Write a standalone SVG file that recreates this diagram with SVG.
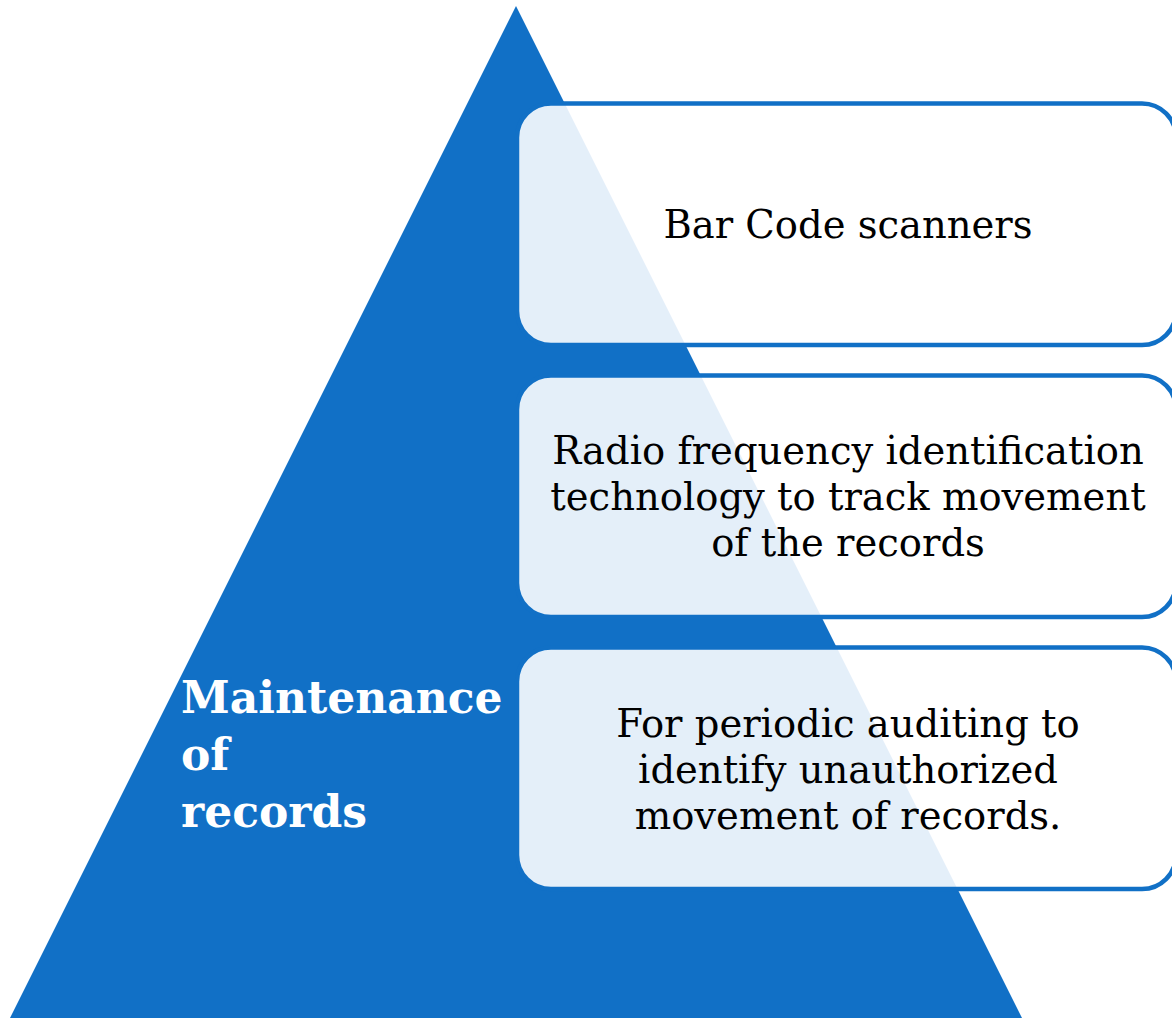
<svg xmlns="http://www.w3.org/2000/svg" width="1172" height="1018" viewBox="0 0 1172 1018">
<style>
.box{fill:#ffffff;fill-opacity:0.89;stroke:#1170c6;stroke-width:4.5}
.t{font-family:"DejaVu Serif","Liberation Serif",serif;font-size:38.5px;fill:#000;text-anchor:middle}
.m{font-family:"DejaVu Serif","Liberation Serif",serif;font-size:44px;font-weight:bold;fill:#fff}
</style>
<rect width="1172" height="1018" fill="#ffffff"/>
<g id="pyramid">
<polygon points="516,6 1022,1018 10,1018" fill="#1170c6"/>
<text class="m"><tspan x="181" y="713">Maintenance</tspan><tspan x="181" y="770">of</tspan><tspan x="181" y="827">records</tspan></text>
</g>
<g id="connectors"></g>
<g id="node1">
<rect class="box" x="517" y="103.5" width="659" height="241.5" rx="34" ry="34"/>
<text class="t" x="848" y="238">Bar Code scanners</text>
</g>
<g id="node2">
<rect class="box" x="517" y="375.5" width="659" height="241.5" rx="34" ry="34"/>
<text class="t"><tspan x="848" y="464">Radio frequency identification</tspan><tspan x="848" y="510">technology to track movement</tspan><tspan x="848" y="556">of the records</tspan></text>
</g>
<g id="node3">
<rect class="box" x="517" y="647.5" width="659" height="241.5" rx="34" ry="34"/>
<text class="t"><tspan x="848" y="737">For periodic auditing to</tspan><tspan x="848" y="783">identify unauthorized</tspan><tspan x="848" y="829">movement of records.</tspan></text>
</g>
</svg>
